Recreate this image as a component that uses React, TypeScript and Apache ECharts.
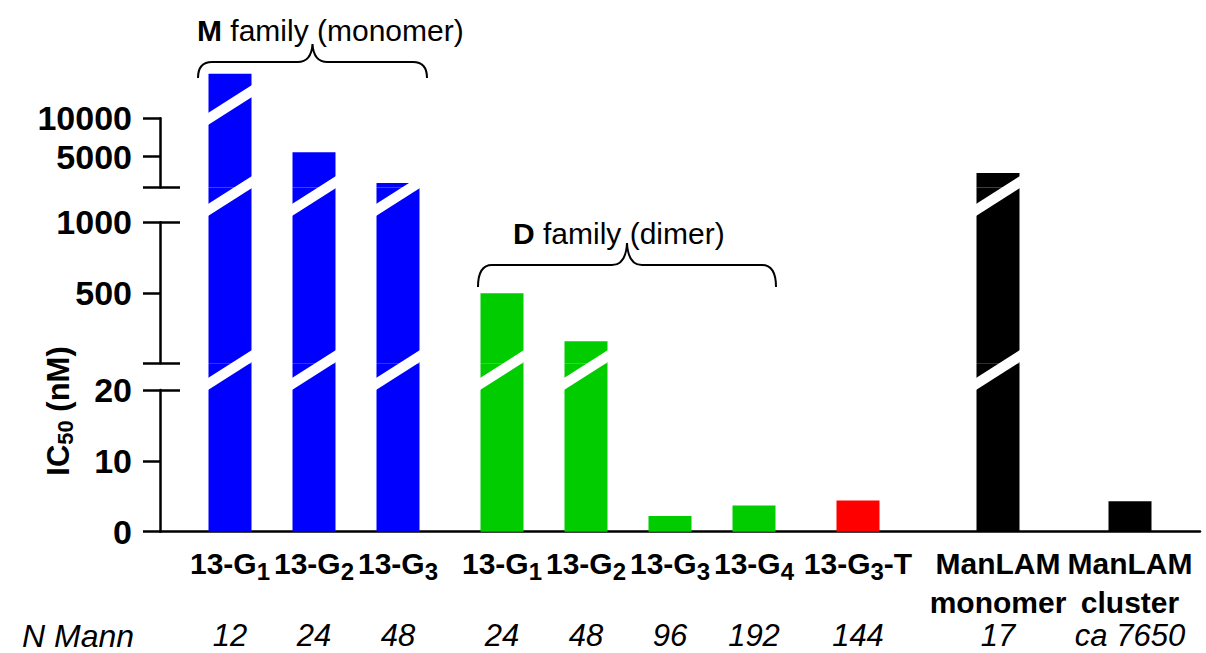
import React, { useEffect, useRef } from 'react';
import * as echarts from 'echarts';

// ---------------- data ----------------
const compounds = ['13-G1', '13-G2', '13-G3', '13-G1', '13-G2', '13-G3', '13-G4', '13-G3-T', 'ManLAM monomer', 'ManLAM cluster'];
const families = ['M', 'M', 'M', 'D', 'D', 'D', 'D', 'T', 'L', 'L'];
const ic50 = [15800, 5600, 1600, 496, 156, 2.2, 3.7, 4.4, 2900, 4.3];
const nMann = ['12', '24', '48', '24', '48', '96', '192', '144', '17', 'ca 7650'];

// broken y axis segments (bottom to top)
const segMin = [0, 0, 1000];
const segMax = [20, 1000, 10000];
const segTickValues = [[0, 10, 20], [0, 500, 1000], [1000, 5000, 10000]];
const segLabelValues = [[0, 10, 20], [500, 1000], [5000, 10000]];
const segCapValues = [[20], [0, 1000], [1000]];

const groupTitles = [
  { bold: 'M', rest: ' family (monomer)' },
  { bold: 'D', rest: ' family (dimer)' },
];
const axisTitle = { main: 'IC', sub: '50', unit: ' (nM)' };
const rowTitle = 'N Mann';

// ---------------- layout / style ----------------
const W = 1206;
const H = 653;
const FONT = '"Liberation Sans", Arial, Helvetica, sans-serif';
const AXIS_X = 160;
const RIGHT = 6;
const SEG_PX = [
  [390, 531.7],
  [222.3, 363.3],
  [118.3, 187.5],
];
const BAR_TOP = 40;
const SLOT_COUNT = 260;
const BAR_SLOTS = [17, 38, 59, 85, 106, 127, 148, 174, 209, 242];
const BAR_W = 43;
const FAMILY_COLOR: Record<string, string> = { M: '#0000ff', D: '#00cc00', T: '#ff0000', L: '#000000' };
const LINE_W = 2.5;
const GAP_SLASH_OFFSET = [0, 6.7, 8.5];
const TOP_SLASH_OFFSET = -13.3;
const SLASH_RISE = 14;
const SLASH_HALF = 6;

function bracePath(x0: number, x1: number, yTip: number, yLine: number, yPeak: number) {
  const xm = (x0 + x1) / 2;
  const r = 14;
  const p = 15;
  return (
    `M${x0},${yTip} Q${x0},${yLine} ${x0 + r},${yLine} L${xm - p},${yLine} ` +
    `Q${xm - 1},${yLine} ${xm},${yPeak} Q${xm + 1},${yLine} ${xm + p},${yLine} ` +
    `L${x1 - r},${yLine} Q${x1},${yLine} ${x1},${yTip}`
  );
}

function labelFor(i: number) {
  const name = compounds[i];
  const m = name.match(/^(\d+-G)(\d)(.*)$/);
  let line1 = '';
  let line2 = '{e| }';
  if (m) {
    line1 = `{b|${m[1]}}{s|${m[2]}}` + (m[3] ? `{b|${m[3]}}` : '');
  } else {
    const parts = name.split(' ');
    line1 = `{b|${parts[0]}}`;
    if (parts[1]) line2 = `{b2|${parts[1]}}`;
  }
  return `${line1}\n${line2}\n{i|${nMann[i]}}`;
}

function buildOption() {
  const slotNames = Array.from({ length: SLOT_COUNT }, (_, i) => String(i));
  const slotToBar: Record<number, number> = {};
  BAR_SLOTS.forEach((s, i) => (slotToBar[s] = i));

  const barTop = (k: number) => (k < 2 ? SEG_PX[k + 1][1] : BAR_TOP);
  const extMax = (k: number) =>
    segMin[k] + ((segMax[k] - segMin[k]) * (SEG_PX[k][1] - barTop(k))) / (SEG_PX[k][1] - SEG_PX[k][0]);

  const grids: any[] = [];
  for (let k = 0; k < 3; k++) {
    grids.push({ left: AXIS_X, right: RIGHT, top: SEG_PX[k][0], height: SEG_PX[k][1] - SEG_PX[k][0], containLabel: false, outerBoundsMode: 'none' });
  }
  for (let k = 0; k < 3; k++) {
    grids.push({ left: AXIS_X, right: RIGHT, top: barTop(k), height: SEG_PX[k][1] - barTop(k), containLabel: false, outerBoundsMode: 'none' });
  }

  const lineStyle = { color: '#000', width: LINE_W };

  const xAxes: any[] = [];
  for (let g = 0; g < 6; g++) {
    const visible = g === 3;
    xAxes.push({
      type: 'category',
      gridIndex: g,
      data: slotNames,
      show: visible,
      boundaryGap: true,
      axisLine: { show: visible, onZero: false, lineStyle },
      axisTick: { show: false },
      splitLine: { show: false },
      axisLabel: {
        show: visible,
        interval: 0,
        margin: 12,
        color: '#000',
        fontFamily: FONT,
        formatter: (v: string) => {
          const idx = slotToBar[Number(v)];
          return idx === undefined ? '' : labelFor(idx);
        },
        rich: {
          b: { fontSize: 30, fontWeight: 'bold', lineHeight: 40, fontFamily: FONT, color: '#000' },
          s: { fontSize: 24, fontWeight: 'bold', lineHeight: 24, verticalAlign: 'bottom', fontFamily: FONT, color: '#000' },
          b2: { fontSize: 30, fontWeight: 'bold', lineHeight: 37, fontFamily: FONT, color: '#000' },
          e: { fontSize: 30, lineHeight: 37, fontFamily: FONT },
          i: { fontSize: 31, fontStyle: 'italic', lineHeight: 30, fontFamily: FONT, color: '#000' },
        },
      },
    });
  }

  const yAxes: any[] = [];
  for (let k = 0; k < 3; k++) {
    yAxes.push({
      type: 'value',
      gridIndex: k,
      position: 'left',
      min: segMin[k],
      max: segMax[k],
      axisLine: { show: true, lineStyle },
      axisTick: { show: true, length: 17, customValues: segTickValues[k], lineStyle },
      axisLabel: {
        show: true,
        customValues: segLabelValues[k],
        formatter: (v: number) => String(v),
        margin: 28,
        fontSize: 34,
        fontWeight: 'bold',
        color: '#000',
        fontFamily: FONT,
      },
      splitLine: { show: false },
    });
  }
  for (let k = 0; k < 3; k++) {
    yAxes.push({ type: 'value', gridIndex: 3 + k, min: segMin[k], max: extMax(k), show: false, splitLine: { show: false } });
  }
  for (let k = 0; k < 3; k++) {
    yAxes.push({
      type: 'value',
      gridIndex: k,
      position: 'left',
      min: segMin[k],
      max: segMax[k],
      axisLine: { show: false },
      axisLabel: { show: false },
      splitLine: { show: false },
      axisTick: { show: true, inside: true, length: 20, customValues: segCapValues[k], lineStyle },
    });
  }

  const bars = compounds.map((_, i) => ({ slot: BAR_SLOTS[i], v: ic50[i], color: FAMILY_COLOR[families[i]] }));

  const series: any[] = [];
  for (let k = 0; k < 3; k++) {
    series.push({
      type: 'bar',
      xAxisIndex: 3 + k,
      yAxisIndex: 3 + k,
      barWidth: BAR_W,
      clip: true,
      silent: true,
      data: bars
        .filter((b) => k === 0 || b.v > segMax[k - 1])
        .map((b) => ({ value: [b.slot, b.v], itemStyle: { color: b.color } })),
    });
  }

  const slash = (k: number, refValue: number, offset: number, list: any[]) => ({
    type: 'custom',
    xAxisIndex: 3 + k,
    yAxisIndex: 3 + k,
    z: 5,
    clip: false,
    silent: true,
    data: list.map((b) => [b.slot, b.v]),
    renderItem: (params: any, api: any) => {
      const p = api.coord([api.value(0), refValue]);
      const cx = p[0];
      const cy = p[1] + offset;
      const hw = BAR_W / 2 + 0.5;
      return {
        type: 'polygon',
        shape: {
          points: [
            [cx - hw, cy + SLASH_RISE - SLASH_HALF],
            [cx + hw, cy - SLASH_RISE - SLASH_HALF],
            [cx + hw, cy - SLASH_RISE + SLASH_HALF],
            [cx - hw, cy + SLASH_RISE + SLASH_HALF],
          ],
        },
        style: { fill: '#ffffff' },
      };
    },
  });
  for (let k = 1; k < 3; k++) {
    series.push(slash(k, segMin[k], GAP_SLASH_OFFSET[k], bars.filter((b) => b.v > segMax[k - 1])));
  }
  series.push(slash(2, segMax[2], TOP_SLASH_OFFSET, bars.filter((b) => b.v > segMax[2])));

  const titleRich = {
    b: { fontWeight: 'bold', fontSize: 30, fontFamily: FONT, fill: '#000', color: '#000' },
  };

  const graphic: any[] = [
    { type: 'braceM', x: 0, y: 0, silent: true, style: { stroke: '#000', fill: null, lineWidth: 2 } },
    { type: 'braceD', x: 0, y: 0, silent: true, style: { stroke: '#000', fill: null, lineWidth: 2 } },
    {
      type: 'text', x: 197, y: 30, silent: true,
      style: { text: `{b|${groupTitles[0].bold}}${groupTitles[0].rest}`, rich: titleRich, fontSize: 30, fontFamily: FONT, fill: '#000', textAlign: 'left', textVerticalAlign: 'middle' },
    },
    {
      type: 'text', x: 513, y: 233, silent: true,
      style: { text: `{b|${groupTitles[1].bold}}${groupTitles[1].rest}`, rich: titleRich, fontSize: 30, fontFamily: FONT, fill: '#000', textAlign: 'left', textVerticalAlign: 'middle' },
    },
    {
      type: 'text', x: 22, y: 636, silent: true,
      style: { text: rowTitle, fontSize: 32, fontStyle: 'italic', fontFamily: FONT, fill: '#000', textAlign: 'left', textVerticalAlign: 'middle' },
    },
    {
      type: 'text', x: 58, y: 411, rotation: Math.PI / 2, silent: true,
      style: {
        text: `{b|${axisTitle.main}}{s|${axisTitle.sub}}{b|${axisTitle.unit}}`,
        rich: {
          b: { fontWeight: 'bold', fontSize: 31, lineHeight: 36, fontFamily: FONT, fill: '#000', color: '#000' },
          s: { fontWeight: 'bold', fontSize: 22, lineHeight: 24, verticalAlign: 'bottom', fontFamily: FONT, fill: '#000', color: '#000' },
        },
        fill: '#000',
        textAlign: 'center',
        textVerticalAlign: 'middle',
      },
    },
  ];

  return {
    animation: false,
    backgroundColor: '#ffffff',
    textStyle: { fontFamily: FONT },
    grid: grids,
    xAxis: xAxes,
    yAxis: yAxes,
    series,
    graphic,
  };
}

export default function App() {
  const ref = useRef<HTMLDivElement>(null);
  useEffect(() => {
    const el = ref.current;
    if (!el) return;
    echarts.graphic.registerShape('braceM', echarts.graphic.extendPath(bracePath(198, 427, 78, 62, 44), {}));
    echarts.graphic.registerShape('braceD', echarts.graphic.extendPath(bracePath(478, 776, 287, 265, 243), {}));
    const chart = echarts.init(el, null, { renderer: 'svg', width: W, height: H });
    chart.setOption(buildOption() as any);
    return () => chart.dispose();
  }, []);
  return (
    <div
      ref={ref}
      style={{ position: 'fixed', left: 0, top: 0, width: W, height: H, background: '#fff' }}
    />
  );
}
